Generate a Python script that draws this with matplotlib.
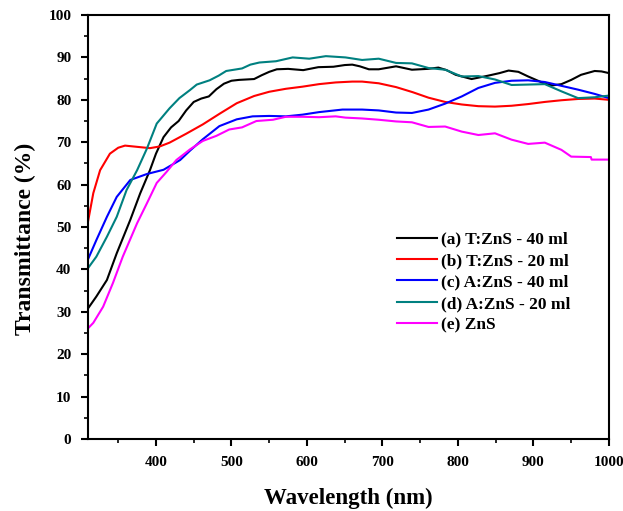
import matplotlib
matplotlib.use("Agg")
import matplotlib.pyplot as plt
from matplotlib.ticker import MultipleLocator

# Transmittance spectra (wavelength in nm, T in %)
wl_a = [310, 321, 335, 348, 366, 379, 392, 400, 410, 420, 430, 440, 450, 460, 470, 480,
        490, 500, 510, 530, 540, 550, 560, 575, 595, 615, 635, 650, 660, 670, 682, 695,
        718, 739, 760, 774, 785, 797, 818, 840, 855, 867, 880, 893, 915, 925, 937, 950,
        963, 981, 990, 1000]
t_a = [30.8, 33.6, 37.5, 43.8, 51.7, 57.9, 63.4, 67.3, 71.2, 73.5, 75.0, 77.5, 79.5, 80.3,
       80.8, 82.5, 83.8, 84.5, 84.7, 84.9, 85.8, 86.6, 87.2, 87.3, 87.0, 87.7, 87.8, 88.2,
       88.3, 87.9, 87.2, 87.2, 87.9, 87.1, 87.3, 87.6, 87.0, 85.9, 84.9, 85.7, 86.3, 86.9,
       86.6, 85.5, 83.8, 83.4, 83.7, 84.7, 85.9, 86.8, 86.7, 86.3]

wl_b = [310, 317, 326, 339, 350, 359, 370, 392, 405, 418, 440, 462, 485, 507, 530, 550,
        572, 594, 616, 638, 660, 673, 695, 718, 740, 761, 783, 805, 827, 849, 871, 893,
        915, 937, 959, 981, 1000]
t_b = [51.3, 58.0, 63.4, 67.3, 68.7, 69.2, 69.0, 68.6, 69.0, 69.9, 72.0, 74.2, 76.8, 79.2,
       80.9, 81.9, 82.6, 83.1, 83.7, 84.1, 84.3, 84.3, 83.9, 83.0, 81.8, 80.5, 79.5, 78.9,
       78.5, 78.4, 78.6, 79.0, 79.5, 79.9, 80.2, 80.3, 80.0]

wl_c = [310, 321, 335, 348, 366, 388, 410, 432, 445, 462, 484, 507, 528, 550, 572, 594,
        616, 647, 673, 695, 718, 739, 761, 783, 805, 827, 849, 871, 893, 915, 937, 959,
        981, 1000]
t_c = [42.4, 46.9, 52.4, 57.1, 61.1, 62.5, 63.5, 65.8, 68.0, 70.7, 73.8, 75.4, 76.1, 76.2,
       76.1, 76.5, 77.1, 77.7, 77.7, 77.5, 77.0, 76.9, 77.7, 79.1, 80.8, 82.8, 84.0, 84.5,
       84.6, 84.2, 83.3, 82.4, 81.4, 80.4]

wl_d = [310, 321, 335, 348, 361, 375, 388, 401, 418, 431, 445, 454, 471, 483, 493, 514,
        525, 537, 559, 581, 603, 625, 651, 673, 695, 718, 739, 761, 783, 805, 827, 849,
        871, 893, 915, 937, 959, 981, 1000]
t_d = [40.3, 43.0, 47.7, 52.4, 58.7, 63.4, 68.5, 74.4, 78.0, 80.4, 82.3, 83.6, 84.6, 85.7,
       86.8, 87.4, 88.3, 88.8, 89.1, 90.0, 89.7, 90.3, 90.0, 89.4, 89.7, 88.7, 88.6, 87.5,
       87.1, 85.5, 85.6, 84.8, 83.5, 83.6, 83.7, 82.0, 80.4, 80.6, 81.0]

wl_e = [310, 317, 330, 343, 356, 375, 388, 401, 414, 427, 445, 462, 480, 497, 514, 533,
        555, 572, 594, 616, 638, 651, 673, 695, 718, 739, 761, 783, 805, 827, 849, 871,
        893, 915, 937, 950, 976, 977, 1000]
t_e = [26.1, 27.4, 31.2, 36.8, 43.0, 50.9, 55.6, 60.4, 63.0, 65.8, 68.3, 70.3, 71.5, 73.0,
       73.5, 75.0, 75.3, 76.0, 76.0, 75.9, 76.1, 75.8, 75.6, 75.3, 74.9, 74.7, 73.6, 73.7,
       72.5, 71.7, 72.1, 70.6, 69.6, 69.9, 68.2, 66.6, 66.5, 65.9, 65.9]

labels = ["(a) T:ZnS - 40 ml", "(b) T:ZnS - 20 ml", "(c) A:ZnS - 40 ml",
          "(d) A:ZnS - 20 ml", "(e) ZnS"]
colors = ["black", "#ff0000", "#0000ff", "#008080", "#ff00ff"]

plt.rcParams["font.family"] = "Liberation Serif"
plt.rcParams["font.weight"] = "bold"

fig = plt.figure(figsize=(6.23, 5.11), dpi=100)
ax = fig.add_axes([0.1413, 0.1409, 0.8362, 0.8297])

series = [(wl_a, t_a), (wl_b, t_b), (wl_c, t_c), (wl_d, t_d), (wl_e, t_e)]
for (x, y), lab, c in zip(series, labels, colors):
    ax.plot(x, y, color=c, lw=1.5, label=lab)

ax.set_xlim(310, 1000)
ax.set_ylim(0, 100)
ax.xaxis.set_major_locator(MultipleLocator(100))
ax.xaxis.set_minor_locator(MultipleLocator(50))
ax.yaxis.set_major_locator(MultipleLocator(10))
ax.yaxis.set_minor_locator(MultipleLocator(5))
ax.tick_params(which="major", direction="out", length=5, width=1.5, labelsize=11, pad=7)
ax.tick_params(which="minor", direction="out", length=3, width=1.2)
for lab in ax.get_xticklabels() + ax.get_yticklabels():
    lab.set_fontweight("bold")
for s in ax.spines.values():
    s.set_linewidth(1.5)

ax.set_xlabel("Wavelength (nm)", fontsize=16.5, fontweight="bold", labelpad=14)
ax.set_ylabel("Transmittance (%)", fontsize=17, fontweight="bold")
# label sits a little below the axis midpoint
ax.yaxis.set_label_coords(-0.1, 0.472)

ax.legend(loc="lower right", bbox_to_anchor=(0.939, 0.233), borderaxespad=0,
          frameon=False, prop={"size": 12.5, "weight": "bold"}, handlelength=2.3,
          handletextpad=0.2, labelspacing=0.3)

fig.savefig("out.png", dpi=100, facecolor="white")
